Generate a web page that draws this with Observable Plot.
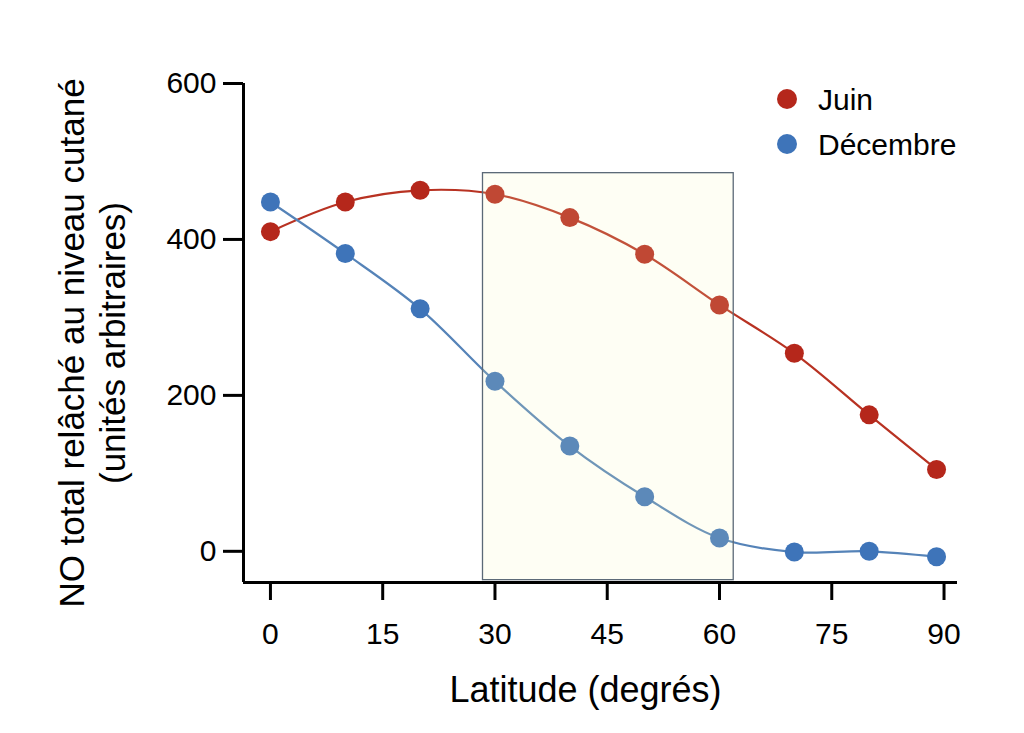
<!DOCTYPE html>
<html><head><meta charset="utf-8">
<script src="https://cdn.jsdelivr.net/npm/d3@7"></script>
<script src="https://cdn.jsdelivr.net/npm/@observablehq/plot@0.6"></script>
<style>
body{margin:0;background:#fff;}
#wrap{position:relative;width:1024px;height:733px;font-family:"Liberation Sans",Arial,Helvetica,sans-serif;}
#legend{position:absolute;left:0;top:0;pointer-events:none;}
</style></head><body><div id="wrap"></div>
<script>
// ---- data ----
const latitudes = [0, 10, 20, 30, 40, 50, 60, 70, 80, 89];
const juin      = [410, 448, 463, 458, 428, 381, 316, 254, 175, 105];
const decembre  = [448, 382, 311, 218, 135, 70, 17, -1, 0, -7];
const seriesNames = ["Juin", "Décembre"];
const xTicks = [0, 15, 30, 45, 60, 75, 90];
const yTicks = [0, 200, 400, 600];
const highlightLat = [28.4, 61.9];
const highlightVal = [-37, 485];
const xLabel = "Latitude (degrés)";
const yLabel = "NO total relâché au niveau cutané\n(unités arbitraires)";

// ---- styles ----
const dotColors = ["#b5271b", "#3e74b9"];
const lineColors = ["#b83222", "#5583b8"];
const FONT = '"Liberation Sans", Arial, Helvetica, sans-serif';
const xDomain = [-3.6, 91.8];
const yDomain = [-40, 600];

const seriesValues = [juin, decembre];
const rows = seriesNames.map((name, s) =>
  latitudes.map((lat, i) => ({lat, value: seriesValues[s][i], serie: name})));
const hl = [{x1: highlightLat[0], x2: highlightLat[1], y1: highlightVal[0], y2: highlightVal[1]}];

const marks = [];
rows.forEach((r, s) => {
  marks.push(Plot.line(r, {x: "lat", y: "value", stroke: lineColors[s], strokeWidth: 2.2, curve: "catmull-rom"}));
});
rows.forEach((r, s) => {
  marks.push(Plot.dot(r, {x: "lat", y: "value", fill: dotColors[s], r: 9.5}));
});
marks.push(
  Plot.rect(hl, {x1: "x1", x2: "x2", y1: "y1", y2: "y2", fill: "#f8f8b8", fillOpacity: 0.16}),
  Plot.rect(hl, {x1: "x1", x2: "x2", y1: "y1", y2: "y2", fill: "none", stroke: "#5b6977", strokeWidth: 1.3}),
  Plot.ruleX([xDomain[0]], {stroke: "#000", strokeWidth: 3}),
  Plot.ruleY([yDomain[0]], {stroke: "#000", strokeWidth: 3}),
  Plot.axisX({ticks: xTicks, tickSize: 18, tickPadding: 22, strokeWidth: 3, fontSize: 30, label: null, stroke: "#000"}),
  Plot.axisY({ticks: yTicks, tickSize: 20, tickPadding: 7, strokeWidth: 3, fontSize: 30, label: null, stroke: "#000"}),
  Plot.text([xLabel], {frameAnchor: "bottom", lineAnchor: "middle", textAnchor: "middle", dx: -15, dy: 108, fontSize: 36, fill: "#000"}),
  Plot.text([yLabel], {frameAnchor: "left", textAnchor: "middle", lineAnchor: "middle", rotate: -90, dx: -152, dy: 10, fontSize: 35, lineHeight: 1.18, fill: "#000"})
);

const chart = Plot.plot({
  width: 1024, height: 733,
  marginLeft: 243, marginRight: 67, marginTop: 83, marginBottom: 151,
  style: {fontFamily: FONT, fontSize: "30px", color: "#000", background: "#fff", overflow: "visible"},
  x: {domain: xDomain},
  y: {domain: yDomain},
  marks
});
const wrap = document.getElementById("wrap");
wrap.appendChild(chart);

// ---- legend overlay ----
const leg = d3.select(wrap).append("svg").attr("id", "legend")
  .attr("width", 1024).attr("height", 733);
const items = leg.selectAll("g").data(seriesNames).join("g")
  .attr("transform", (d, i) => `translate(787, ${99 + i * 45})`);
items.append("circle").attr("r", 10).attr("fill", (d, i) => dotColors[i]);
items.append("text").attr("x", 31).attr("y", 10.5).text(d => d)
  .attr("font-family", FONT).attr("font-size", 30).attr("fill", "#000");
</script></body></html>
